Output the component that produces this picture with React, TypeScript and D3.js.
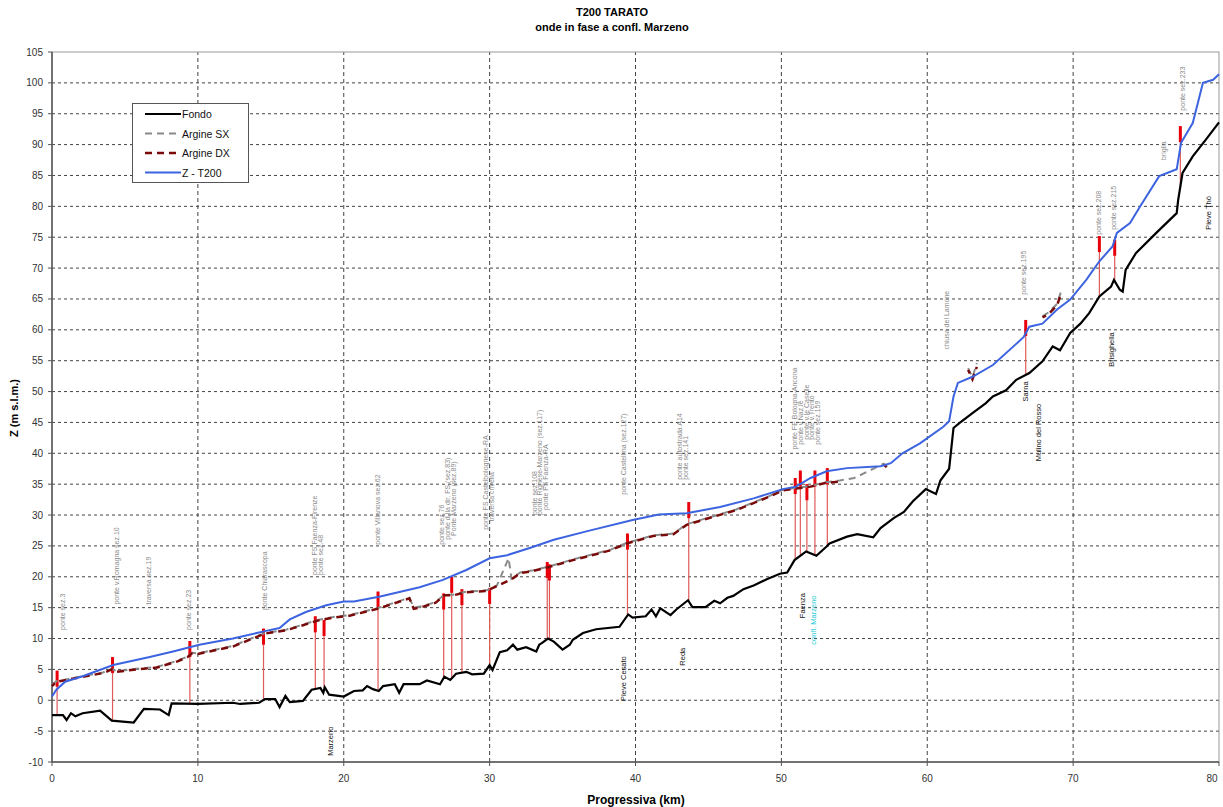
import React from 'react';
import * as d3 from 'd3';

// profilo di fondo
const fondoKm = [0, 0.75, 1.0, 1.3, 1.6, 2.1, 3.3, 4.1, 5.6, 6.3, 7.4, 8.0, 8.2, 10, 12.4, 12.9, 14.2, 14.6, 15.3, 15.6, 16.0, 16.3, 17.2, 17.8, 18.4, 18.6, 18.7, 19.0, 20.0, 20.7, 21.3, 21.6, 22.0, 22.4, 22.7, 23.5, 23.8, 24.1, 25.2, 25.7, 26.6, 26.9, 27.3, 27.7, 28.4, 28.8, 29.6, 30.0, 30.2, 30.7, 31.2, 31.6, 31.9, 32.5, 33.2, 33.4, 33.6, 34.0, 34.4, 35.0, 35.5, 35.7, 36.4, 37.3, 38.9, 39.5, 39.8, 40.7, 41.1, 41.4, 41.7, 42.4, 42.8, 43.6, 43.9, 44.8, 45.4, 45.8, 46.3, 46.7, 47.4, 48.1, 49.0, 49.9, 50.4, 50.9, 51.7, 52.4, 53.1, 53.3, 54.5, 55.2, 56.3, 56.8, 57.7, 58.4, 59.0, 59.9, 60.6, 60.9, 61.5, 61.8, 62.2, 63.1, 64.0, 64.5, 65.4, 66.1, 67.0, 67.9, 68.6, 69.1, 69.8, 70.5, 71.1, 71.8, 72.6, 72.8, 73.2, 73.4, 73.6, 74.3, 75.7, 77.1, 77.2, 77.5, 78.2, 79.1, 80];
const fondoZ = [-2.4, -2.4, -3.2, -2.1, -2.6, -2.1, -1.7, -3.3, -3.6, -1.4, -1.5, -2.4, -0.5, -0.6, -0.4, -0.6, -0.4, 0.2, 0.2, -1.1, 0.7, -0.3, -0.1, 1.7, 2.0, 1.2, 2.1, 0.9, 0.6, 1.5, 1.6, 2.3, 1.8, 1.5, 2.3, 2.6, 1.2, 2.6, 2.6, 3.2, 2.6, 3.8, 3.3, 4.3, 4.6, 4.2, 4.3, 5.7, 4.9, 7.8, 8.1, 9.0, 8.2, 8.6, 7.9, 9.0, 9.3, 10.0, 9.5, 8.2, 9.0, 9.8, 10.9, 11.5, 11.9, 13.9, 13.4, 13.6, 14.7, 13.6, 14.9, 13.8, 14.7, 16.2, 15.1, 15.1, 16.1, 15.7, 16.6, 16.9, 18.0, 18.6, 19.6, 20.5, 20.7, 22.7, 24.1, 23.4, 24.9, 25.4, 26.5, 26.9, 26.4, 27.9, 29.5, 30.5, 32.2, 34.2, 33.4, 35.6, 37.5, 44.1, 44.9, 46.5, 48.1, 49.2, 50.2, 51.9, 53.0, 54.9, 57.3, 56.7, 59.5, 61.0, 62.7, 65.4, 67.0, 68.1, 66.5, 66.2, 69.7, 72.4, 75.7, 78.9, 81.0, 85.4, 88.1, 90.8, 93.6];

// livelli T200
const t200Km = [0, 0.3, 0.9, 2.1, 4.2, 6.7, 8.3, 10.1, 12.4, 14.6, 15.6, 16.3, 17.4, 18.8, 20.0, 20.7, 22.5, 25.2, 26.8, 28.4, 30.0, 31.2, 32.8, 34.4, 36.7, 39.8, 41.6, 43.5, 45.8, 48.1, 50.1, 51.0, 52.0, 53.1, 54.5, 56.8, 57.5, 58.3, 59.5, 61.1, 61.5, 61.8, 62.1, 63.1, 64.5, 66.6, 67.0, 67.9, 68.9, 69.8, 70.9, 71.8, 72.7, 73.0, 73.9, 74.6, 75.9, 77.1, 77.4, 78.2, 78.9, 79.6, 80];
const t200Z = [0.6, 1.7, 3.0, 3.9, 5.7, 7.0, 7.9, 9.0, 10.0, 11.2, 11.7, 13.1, 14.3, 15.4, 16.0, 16.0, 16.8, 18.3, 19.5, 21.1, 23.0, 23.5, 24.7, 26.0, 27.4, 29.2, 30.1, 30.3, 31.3, 32.7, 34.2, 34.6, 36.0, 37.1, 37.6, 37.9, 38.4, 40.0, 41.6, 44.3, 45.2, 49.2, 51.4, 52.4, 54.3, 58.8, 60.5, 61.0, 63.3, 64.9, 68.1, 71.1, 73.5, 75.7, 77.3, 80.0, 84.9, 86.0, 90.3, 93.5, 100.0, 100.5, 101.4];

// argini (null = interruzione)
const argineKm = [0, 0.3, 0.8, 2.1, 3.5, 4.1, 4.4, 5.8, 7.2, 8.6, 9.3, 9.6, 10.0, 12.4, 14.6, 16.0, 17.0, 18.2, 19.3, 20.4, 22.3, 24.5, 24.8, 25.5, 26.3, 26.9, 27.5, 28.4, 29.8, 30.5, 31.3, 31.5, 32.1, 32.9, 34.1, 35.7, 36.7, 38.3, 39.4, 41.2, 42.6, 43.5, 44.6, 46.9, 49.2, 50.1, 51.0, 52.0, 53.0, 54.0, 55, 57.0, 57.3, 58, 62.8, 63.1, 63.4, 64, 67.9, 68.3, 68.9, 69.2];
const argineDxZ = [2.3, 3.0, 3.2, 3.8, 4.4, 5.0, 4.6, 5.0, 5.3, 6.3, 7.0, 7.6, 7.5, 8.7, 10.8, 11.3, 12.0, 12.9, 13.4, 13.7, 14.8, 16.5, 14.8, 15.2, 15.8, 17.0, 17.0, 17.5, 17.7, 18.5, 19.4, 19.6, 20.6, 20.9, 21.6, 22.7, 23.3, 24.3, 25.4, 26.6, 26.9, 28.4, 29.2, 30.8, 33.0, 34.0, 34.3, 34.6, 35.2, 35.4, null, 38.2, 37.6, null, 53.5, 52.0, 54.0, null, 62.0, 62.5, 64.0, 66.0];
const argineSxZ = [2.5, 3.1, 3.3, 3.9, 4.5, 5.1, 4.7, 5.1, 5.4, 6.4, 7.1, 7.7, 7.6, 8.8, 10.9, 11.4, 12.1, 13.0, 13.5, 13.8, 14.9, 16.6, 15.0, 15.3, 15.9, 17.1, 17.1, 17.6, 17.8, 18.6, 23.0, 19.7, 20.7, 21.0, 21.7, 22.8, 23.4, 24.4, 25.5, 26.7, 27.0, 28.5, 29.3, 30.9, 33.1, 34.1, 34.4, 34.7, 35.3, 35.6, 36.0, 38.3, 37.7, null, 53.8, 52.3, 54.6, null, 62.2, 62.8, 64.2, 66.4];

// ponti: progressiva e quota impalcato
const ponteKm = [0.35, 4.15, 9.45, 14.5, 18.05, 18.65, 22.35, 26.85, 27.4, 28.1, 30.0, 33.95, 34.1, 39.45, 43.65, 50.95, 51.3, 51.75, 52.3, 53.15, 66.75, 71.8, 72.85, 77.35];
const ponteZ = [4.8, 7.0, 9.6, 11.6, 13.6, 13.0, 17.6, 17.3, 20.0, 18.0, 18.2, 22.4, 22.0, 27.0, 32.1, 36.0, 37.2, 35.0, 37.2, 37.6, 61.6, 75.2, 74.6, 93.0];

// etichette grigie (verticali)
const labelTxt = ['ponte sez.3', 'ponte v.Romagna sez.10', 'traversa sez.19', 'ponte sez.23', 'ponte Chiarascopa', 'ponte FS Faenza-Firenze', 'ponte sez.48', 'ponte Villanova sez.62', 'ponte sez.76', 'ponte d.Ila dir. FS (sez.83)', 'Ponte Marzeno (sez.89)', 'ponte FS Castelbolognese-RA', 'traversa crivella', 'ponte sez.108', 'ponte Rignese-Marzeno (sez.117)', 'ponte FS Faenza-RA', 'ponte Castellina (sez.127)', 'ponte autostrada A14', 'ponte sez.141', 'ponte FE Bologna-Ancona', 'ponte v.Naz.le', 'ponte v.le Caselle', 'ponte v.Trento', 'ponte sez.159', 'chiusa del Lamone', 'ponte sez.195', 'ponte sez.208', 'ponte sez.215', 'briglia', 'ponte sez.233'];
const labelKm = [0.75, 4.45, 6.6, 9.35, 14.55, 18.0, 18.4, 22.3, 26.7, 27.1, 27.5, 29.7, 30.15, 33.05, 33.45, 33.85, 39.2, 43.05, 43.45, 50.9, 51.3, 51.7, 52.05, 52.5, 61.3, 66.6, 71.75, 72.8, 76.2, 77.5];
const labelZ = [11.4, 15.5, 15.5, 11.4, 14.6, 20.3, 20.3, 25.2, 25.2, 26.0, 26.6, 27.6, 29.0, 30.0, 30.0, 30.8, 33.3, 35.7, 35.7, 40.6, 41.4, 42.2, 42.2, 41.4, 56.8, 65.7, 75.4, 76.2, 87.5, 95.5];

// località (nere)
const locTxt = ['Marzeno', 'Pieve Cesato', 'Reda', 'Faenza', 'confl. Marzeno', 'Sarna', 'Mulino del Rosso', 'Brisighella', 'Pieve Thò'];
const locKm = [19.1, 39.15, 43.2, 51.45, 52.2, 66.75, 67.65, 72.6, 79.25];
const locZ = [-9.0, -0.1, 5.6, 13.3, 9.0, 48.4, 38.7, 54.0, 76.2];
const locColor = ['#111', '#111', '#111', '#111', '#22c8d8', '#111', '#111', '#111', '#111'];

const xTicks = [0, 10, 20, 30, 40, 50, 60, 70, 80];
const yTicks = d3.range(-10, 106, 5);

const W = 1223;
const H = 807;
const font = 'Liberation Sans, Arial, sans-serif';

export default function App() {
  const x = d3.scaleLinear().domain([0, 80]).range([52, 1219]);
  const y = d3.scaleLinear().domain([-10, 105]).range([762, 52]);

  const line = d3
    .line<[number, number | null]>()
    .defined(d => d[1] !== null)
    .x(d => x(d[0]))
    .y(d => y(d[1] as number));

  const fondoPath = line(fondoKm.map((k, i) => [k, fondoZ[i]]));
  const t200Path = line(t200Km.map((k, i) => [k, t200Z[i]]));
  const dxPath = line(argineKm.map((k, i) => [k, argineDxZ[i]]));
  const sxPath = line(argineKm.map((k, i) => [k, argineSxZ[i]]));

  // quota di fondo sotto ogni ponte
  const fondoAt = (k: number) => {
    const i = d3.bisectRight(fondoKm, k);
    const i0 = Math.max(0, i - 1);
    const i1 = Math.min(fondoKm.length - 1, i);
    const t = fondoKm[i1] === fondoKm[i0] ? 0 : (k - fondoKm[i0]) / (fondoKm[i1] - fondoKm[i0]);
    return fondoZ[i0] + t * (fondoZ[i1] - fondoZ[i0]);
  };

  const legend = [
    { name: 'Fondo', color: '#000', dash: '', w: 2 },
    { name: 'Argine SX', color: '#8a8a8a', dash: '7,5', w: 2 },
    { name: 'Argine DX', color: '#7a0a0a', dash: '7,5', w: 2.5 },
    { name: 'Z - T200', color: '#3d64e0', dash: '', w: 2 },
  ];

  return (
    <svg
      width={W}
      height={H}
      style={{ position: 'absolute', left: 0, top: 0, background: '#fff' }}
      fontFamily={font}
    >
      <rect x={0} y={0} width={W} height={H} fill="#fff" />

      {/* titolo */}
      <text x={612} y={16} textAnchor="middle" fontSize={11} fontWeight="bold">T200 TARATO</text>
      <text x={612} y={31} textAnchor="middle" fontSize={11} fontWeight="bold">onde in fase a confl. Marzeno</text>

      {/* griglia */}
      {yTicks.filter(v => v > -10 && v < 105).map(v => (
        <line key={'gy' + v} x1={x(0)} x2={x(80)} y1={y(v)} y2={y(v)} stroke="#444" strokeWidth={1} strokeDasharray="3,3" />
      ))}
      {xTicks.filter(v => v > 0 && v < 80).map(v => (
        <line key={'gx' + v} x1={x(v)} x2={x(v)} y1={y(-10)} y2={y(105)} stroke="#444" strokeWidth={1} strokeDasharray="4,3" />
      ))}
      <rect x={x(0)} y={y(105)} width={x(80) - x(0)} height={y(-10) - y(105)} fill="none" stroke="#999" />
      <line x1={x(0)} x2={x(0)} y1={y(-10)} y2={y(105)} stroke="#555" strokeWidth={1.5} />
      <line x1={x(0)} x2={x(80)} y1={y(-10)} y2={y(-10)} stroke="#555" strokeWidth={1.5} />

      {/* assi */}
      {yTicks.map(v => (
        <g key={'ty' + v}>
          <line x1={x(0) - 4} x2={x(0)} y1={y(v)} y2={y(v)} stroke="#555" />
          <text x={43} y={y(v) + 3.5} textAnchor="end" fontSize={10} fill="#333">{v}</text>
        </g>
      ))}
      {xTicks.map(v => (
        <g key={'tx' + v}>
          <line x1={x(v)} x2={x(v)} y1={y(-10)} y2={y(-10) + 4} stroke="#555" />
          <text x={v === 80 ? x(v) - 7 : x(v)} y={782} textAnchor="middle" fontSize={10} fill="#333">{v}</text>
        </g>
      ))}
      <text x={636} y={804} textAnchor="middle" fontSize={12} fontWeight="bold">Progressiva (km)</text>
      <text transform="translate(18,408) rotate(-90)" textAnchor="middle" fontSize={11} fontWeight="bold">Z (m s.l.m.)</text>

      {/* etichette sezioni */}
      {labelTxt.map((t, i) => (
        <text key={'lb' + i} transform={`translate(${x(labelKm[i]) + 2.5},${y(labelZ[i])}) rotate(-90)`} fontSize={7} fill="#8a8a8a">{t}</text>
      ))}
      {locTxt.map((t, i) => (
        <text key={'lc' + i} transform={`translate(${x(locKm[i]) + 2.5},${y(locZ[i])}) rotate(-90)`} fontSize={7.5} fill={locColor[i]}>{t}</text>
      ))}

      {/* ponti */}
      {ponteKm.map((k, i) => (
        <g key={'p' + i}>
          <line x1={x(k)} x2={x(k)} y1={y(fondoAt(k))} y2={y(ponteZ[i])} stroke="#e05a5a" strokeWidth={1.2} />
          <line x1={x(k)} x2={x(k)} y1={y(ponteZ[i] - 2.6)} y2={y(ponteZ[i])} stroke="#e8000b" strokeWidth={3} />
        </g>
      ))}

      {/* serie */}
      <path d={sxPath ?? ''} fill="none" stroke="#8a8a8a" strokeWidth={2} strokeDasharray="7,5" />
      <path d={dxPath ?? ''} fill="none" stroke="#7a0a0a" strokeWidth={2.5} strokeDasharray="7,5" strokeDashoffset={3} />
      <path d={t200Path ?? ''} fill="none" stroke="#3d64e0" strokeWidth={2} />
      <path d={fondoPath ?? ''} fill="none" stroke="#000" strokeWidth={2.2} />

      {/* legenda */}
      <g>
        <rect x={132.5} y={103.5} width={116} height={79} fill="#fff" stroke="#555" />
        {legend.map((l, i) => (
          <g key={l.name}>
            <line x1={145} x2={181} y1={114 + i * 19.5} y2={114 + i * 19.5} stroke={l.color} strokeWidth={l.w} strokeDasharray={l.dash} />
            <text x={182} y={118 + i * 19.5} fontSize={10.5} fill="#111">{l.name}</text>
          </g>
        ))}
      </g>
    </svg>
  );
}
